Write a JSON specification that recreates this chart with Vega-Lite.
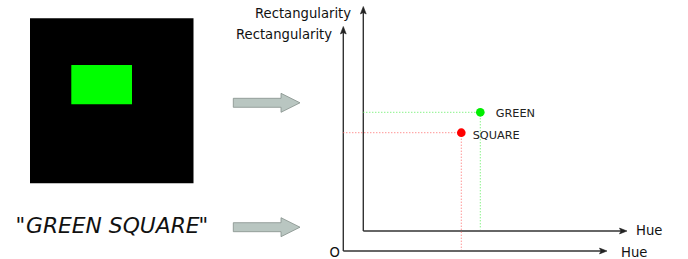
{
  "$schema": "https://vega.github.io/schema/vega-lite/v6.json",
  "width": 688,
  "height": 259,
  "autosize": {"type": "fit", "contains": "padding"},
  "padding": 0,
  "background": "#ffffff",
  "config": {"view": {"stroke": null}},
  "resolve": {"scale": {"color": "independent", "fill": "independent", "stroke": "independent"}},
  "datasets": {
    "rects": [
      {"name": "image", "x": 30, "x2": 193.5, "y": 18.3, "y2": 183.3},
      {"name": "shape", "x": 71.3, "x2": 132, "y": 65, "y2": 104.3}
    ],
    "blocks": [
      {"shape": "a1", "i": 0, "x": 233.3, "y": 98.3},
      {"shape": "a1", "i": 1, "x": 281, "y": 98.3},
      {"shape": "a1", "i": 2, "x": 281, "y": 93.3},
      {"shape": "a1", "i": 3, "x": 300, "y": 102.8},
      {"shape": "a1", "i": 4, "x": 281, "y": 112.3},
      {"shape": "a1", "i": 5, "x": 281, "y": 107.3},
      {"shape": "a1", "i": 6, "x": 233.3, "y": 107.3},
      {"shape": "a2", "i": 0, "x": 233.3, "y": 222.7},
      {"shape": "a2", "i": 1, "x": 281, "y": 222.7},
      {"shape": "a2", "i": 2, "x": 281, "y": 217.7},
      {"shape": "a2", "i": 3, "x": 300, "y": 227.2},
      {"shape": "a2", "i": 4, "x": 281, "y": 236.7},
      {"shape": "a2", "i": 5, "x": 281, "y": 231.7},
      {"shape": "a2", "i": 6, "x": 233.3, "y": 231.7}
    ],
    "axes": [
      {"axis": "outer-v", "x": 343.3, "y": 251, "x2": 343.3, "y2": 30},
      {"axis": "outer-h", "x": 343.3, "y": 251, "x2": 602, "y2": 251},
      {"axis": "inner-v", "x": 363.3, "y": 231, "x2": 363.3, "y2": 10},
      {"axis": "inner-h", "x": 363.3, "y": 231, "x2": 622, "y2": 231}
    ],
    "heads": [
      {"head": "ov", "i": 0, "x": 343.3, "y": 26.5},
      {"head": "ov", "i": 1, "x": 346.2, "y": 34},
      {"head": "ov", "i": 2, "x": 343.3, "y": 32.5},
      {"head": "ov", "i": 3, "x": 340.4, "y": 34},
      {"head": "iv", "i": 0, "x": 363.3, "y": 6.5},
      {"head": "iv", "i": 1, "x": 366.2, "y": 14},
      {"head": "iv", "i": 2, "x": 363.3, "y": 12.5},
      {"head": "iv", "i": 3, "x": 360.4, "y": 14},
      {"head": "oh", "i": 0, "x": 607, "y": 251},
      {"head": "oh", "i": 1, "x": 599.5, "y": 248.1},
      {"head": "oh", "i": 2, "x": 601, "y": 251},
      {"head": "oh", "i": 3, "x": 599.5, "y": 253.9},
      {"head": "ih", "i": 0, "x": 627, "y": 231},
      {"head": "ih", "i": 1, "x": 619.5, "y": 228.1},
      {"head": "ih", "i": 2, "x": 621, "y": 231},
      {"head": "ih", "i": 3, "x": 619.5, "y": 233.9}
    ],
    "guides": [
      {"word": "GREEN", "x": 363.3, "y": 112.3, "x2": 480.3, "y2": 112.3},
      {"word": "GREEN", "x": 480.3, "y": 112.3, "x2": 480.3, "y2": 229.5},
      {"word": "SQUARE", "x": 343.3, "y": 132.7, "x2": 461.3, "y2": 132.7},
      {"word": "SQUARE", "x": 461.3, "y": 132.7, "x2": 461.3, "y2": 250}
    ],
    "points": [
      {"word": "GREEN", "x": 480.3, "y": 112.3},
      {"word": "SQUARE", "x": 461.3, "y": 132.7}
    ],
    "pointLabels": [
      {"label": "GREEN", "x": 495.7, "y": 117},
      {"label": "SQUARE", "x": 472.7, "y": 138.8}
    ],
    "axisLabels": [
      {"label": "Rectangularity", "x": 255, "y": 18},
      {"label": "Rectangularity", "x": 236, "y": 38.5},
      {"label": "Hue", "x": 636, "y": 235},
      {"label": "Hue", "x": 621, "y": 256.5},
      {"label": "O", "x": 329.5, "y": 256.8}
    ],
    "quotes": [
      {"label": "\"", "x": 15.5, "y": 233.3},
      {"label": "\"", "x": 198.5, "y": 233.3}
    ],
    "caption": [
      {"label": "GREEN SQUARE", "x": 26, "y": 233.3}
    ]
  },
  "encoding": {
    "x": {"field": "x", "type": "quantitative", "scale": {"domain": [0, 688], "nice": false, "zero": false}, "axis": null},
    "y": {"field": "y", "type": "quantitative", "scale": {"domain": [0, 259], "nice": false, "zero": false, "reverse": true}, "axis": null}
  },
  "layer": [
    {
      "data": {"name": "rects"},
      "mark": {"type": "rect"},
      "encoding": {
        "x2": {"field": "x2"},
        "y2": {"field": "y2"},
        "fill": {"field": "name", "type": "nominal", "scale": {"domain": ["image", "shape"], "range": ["#000000", "#00ff00"]}, "legend": null}
      }
    },
    {
      "data": {"name": "blocks"},
      "mark": {"type": "line", "interpolate": "linear-closed", "fill": "#b9c6c1", "stroke": "#848f8a", "strokeWidth": 0.8},
      "encoding": {
        "detail": {"field": "shape", "type": "nominal"},
        "order": {"field": "i", "type": "quantitative"}
      }
    },
    {
      "data": {"name": "axes"},
      "mark": {"type": "rule", "color": "#333333", "strokeWidth": 1.4},
      "encoding": {
        "x2": {"field": "x2"},
        "y2": {"field": "y2"}
      }
    },
    {
      "data": {"name": "heads"},
      "mark": {"type": "line", "interpolate": "linear-closed", "fill": "#222222", "stroke": "#222222", "strokeWidth": 0.6},
      "encoding": {
        "detail": {"field": "head", "type": "nominal"},
        "order": {"field": "i", "type": "quantitative"}
      }
    },
    {
      "data": {"name": "guides"},
      "mark": {"type": "rule", "strokeWidth": 1, "strokeDash": [1, 2]},
      "encoding": {
        "x2": {"field": "x2"},
        "y2": {"field": "y2"},
        "stroke": {"field": "word", "type": "nominal", "scale": {"domain": ["GREEN", "SQUARE"], "range": ["#55ee55", "#ff6666"]}, "legend": null}
      }
    },
    {
      "data": {"name": "points"},
      "mark": {"type": "circle", "size": 75, "opacity": 1},
      "encoding": {
        "color": {"field": "word", "type": "nominal", "scale": {"domain": ["GREEN", "SQUARE"], "range": ["#00ee00", "#ff0000"]}, "legend": null}
      }
    },
    {
      "data": {"name": "pointLabels"},
      "mark": {"type": "text", "align": "left", "baseline": "alphabetic", "font": "DejaVu Sans", "fontSize": 11.3, "color": "#222222"},
      "encoding": {"text": {"field": "label", "type": "nominal"}}
    },
    {
      "data": {"name": "axisLabels"},
      "mark": {"type": "text", "align": "left", "baseline": "alphabetic", "font": "DejaVu Sans", "fontSize": 13.2, "color": "#111111"},
      "encoding": {"text": {"field": "label", "type": "nominal"}}
    },
    {
      "data": {"name": "quotes"},
      "mark": {"type": "text", "align": "left", "baseline": "alphabetic", "font": "DejaVu Sans", "fontSize": 21, "color": "#111111"},
      "encoding": {"text": {"field": "label", "type": "nominal"}}
    },
    {
      "data": {"name": "caption"},
      "mark": {"type": "text", "align": "left", "baseline": "alphabetic", "font": "DejaVu Sans", "fontSize": 21.8, "fontStyle": "italic", "color": "#111111"},
      "encoding": {"text": {"field": "label", "type": "nominal"}}
    }
  ]
}
